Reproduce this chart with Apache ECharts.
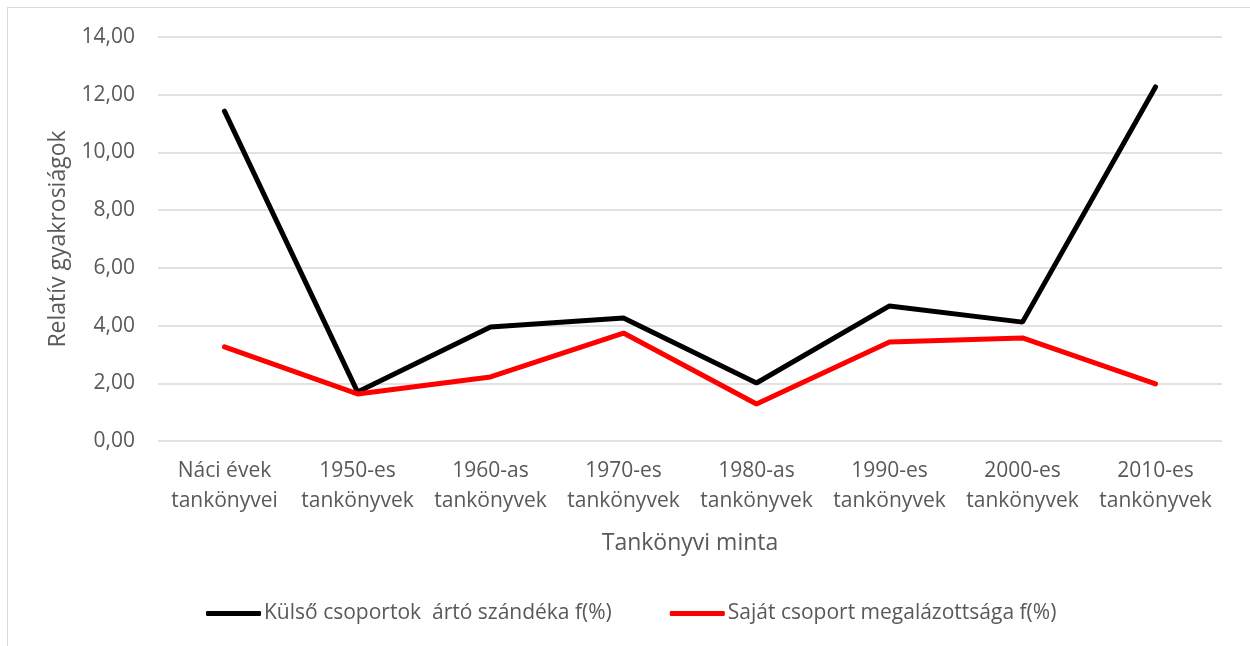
<!DOCTYPE html>
<html>
<head>
<meta charset="utf-8">
<script src="https://cdn.jsdelivr.net/npm/echarts@6/dist/echarts.min.js"></script>
<style>
  html, body { margin: 0; padding: 0; background: #fff; }
  #frame {
    position: absolute; left: 7px; top: 7px; width: 1260px; height: 660px;
    border: 1px solid #d9d9d9; box-sizing: border-box;
  }
  #main { position: absolute; left: 0; top: 0; width: 1250px; height: 646px; }
</style>
</head>
<body>
<div id="frame"></div>
<div id="main"></div>
<script>
const categories = [
  'Náci évek\ntankönyvei', '1950-es\ntankönyvek', '1960-as\ntankönyvek', '1970-es\ntankönyvek',
  '1980-as\ntankönyvek', '1990-es\ntankönyvek', '2000-es\ntankönyvek', '2010-es\ntankönyvek'
]
const kulsoValues = [11.43, 1.70, 3.95, 4.26, 2.01, 4.68, 4.12, 12.27]
const sajatValues = [3.26, 1.63, 2.22, 3.74, 1.28, 3.43, 3.57, 1.98]
const seriesNames = ['Külső csoportok  ártó szándéka f(%)', 'Saját csoport megalázottsága f(%)']

const font = '"Open Sans", "Liberation Sans", sans-serif'
const textColor = '#595959'

const chart = echarts.init(document.getElementById('main'))

const option = {
  animation: false,
  textStyle: { fontFamily: font },
  grid: { left: 158, right: 28, top: 37, bottom: 205, containLabel: false },
  legend: {
    bottom: 17,
    left: 201,
    itemGap: 58,
    itemWidth: 55,
    itemHeight: 5,
    icon: 'roundRect',
    data: seriesNames,
    textStyle: { color: textColor, fontSize: 21, fontFamily: font, padding: [0, 0, 0, -2] },
  },
  xAxis: {
    type: 'category',
    data: categories,
    boundaryGap: true,
    name: 'Tankönyvi minta',
    nameLocation: 'middle',
    nameGap: 91,
    nameTextStyle: { color: textColor, fontSize: 23, fontFamily: font },
    axisLine: { show: false },
    axisTick: { show: false },
    axisLabel: { color: textColor, fontSize: 21, lineHeight: 30, margin: 15, interval: 0 },
  },
  yAxis: {
    type: 'value',
    min: 0,
    max: 14,
    interval: 2,
    name: 'Relatív gyakrosiágok',
    nameLocation: 'middle',
    nameGap: 88,
    nameTextStyle: { color: textColor, fontSize: 23, fontFamily: font },
    axisLine: { show: false },
    axisTick: { show: false },
    axisLabel: {
      color: textColor, fontSize: 21, margin: 23,
      formatter: v => v.toFixed(2).replace('.', ','),
    },
    splitLine: { lineStyle: { color: '#d9d9d9', width: 1.5 } },
  },
  series: [
    {
      name: seriesNames[0],
      type: 'line',
      data: kulsoValues,
      symbol: 'none',
      itemStyle: { color: '#000000' },
      lineStyle: { color: '#000000', width: 5, cap: 'round' },
    },
    {
      name: seriesNames[1],
      type: 'line',
      data: sajatValues,
      symbol: 'none',
      itemStyle: { color: '#ff0000' },
      lineStyle: { color: '#ff0000', width: 5, cap: 'round' },
    },
  ],
}

chart.setOption(option)
</script>
</body>
</html>
